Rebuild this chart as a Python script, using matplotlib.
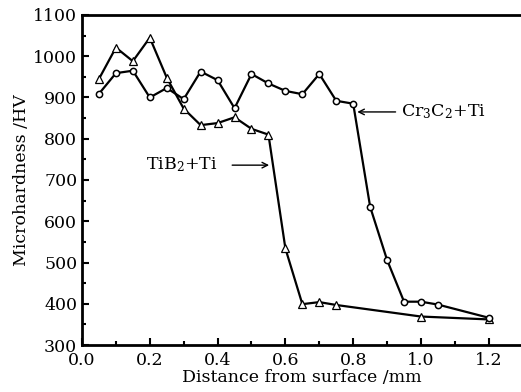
import matplotlib.pyplot as plt
from matplotlib.ticker import MultipleLocator

plt.rcParams.update({
    "font.family": "serif",
    "font.serif": ["DejaVu Serif"],
    "mathtext.fontset": "dejavuserif"})

# TiB2+Ti (triangles)
tib2_x = [0.05, 0.10, 0.15, 0.20, 0.25, 0.30, 0.35, 0.40, 0.45, 0.50, 0.55,
          0.60, 0.65, 0.70, 0.75, 1.00, 1.20]
tib2_y = [945, 1021, 988, 1045, 948, 873, 833, 838, 852, 824, 810,
          534, 399, 404, 397, 369, 362]

# Cr3C2+Ti (circles)
cr_x = [0.05, 0.10, 0.15, 0.20, 0.25, 0.30, 0.35, 0.40, 0.45, 0.50, 0.55,
        0.60, 0.65, 0.70, 0.75, 0.80, 0.85, 0.90, 0.95, 1.00, 1.05, 1.20]
cr_y = [909, 959, 965, 900, 923, 896, 963, 942, 874, 957, 934,
        916, 908, 957, 892, 885, 635, 506, 405, 405, 398, 366]

fig = plt.figure(figsize=(5.21, 3.92), dpi=100)
ax = fig.add_axes([82/521, 47/392, 439/521, 330/392])

ax.plot(tib2_x, tib2_y, color='k', lw=1.6, marker='^', ms=6,
        mfc='white', mec='k', mew=0.9)
ax.plot(cr_x, cr_y, color='k', lw=1.6, marker='o', ms=4.5,
        mfc='white', mec='k', mew=1.1)

ax.set_xlim(0, 1.295)
ax.set_ylim(300, 1100)
ax.xaxis.set_major_locator(MultipleLocator(0.2))
ax.xaxis.set_minor_locator(MultipleLocator(0.1))
ax.yaxis.set_major_locator(MultipleLocator(100))
ax.yaxis.set_minor_locator(MultipleLocator(50))
ax.xaxis.set_major_formatter('{x:.1f}')
ax.tick_params(which='both', direction='in', width=1.5, labelsize=12.5)
ax.tick_params(which='major', length=5)
ax.tick_params(which='minor', length=3)
ax.tick_params(axis='x', pad=5)
ax.spines['right'].set_visible(False)
for s in ['left', 'bottom', 'top']:
    ax.spines[s].set_linewidth(2)

ax.set_xlabel('Distance from surface /mm', fontsize=12.5, labelpad=0)
ax.set_ylabel('Microhardness /HV', fontsize=12.5, labelpad=2)

ax.text(0.295, 736, r'TiB$_2$+Ti', fontsize=12.5, va='center', ha='center')
ax.annotate('', xy=(0.552, 736), xytext=(0.443, 736),
            arrowprops=dict(arrowstyle='->', color='k', lw=1.0,
                            shrinkA=0, shrinkB=0))
ax.text(0.942, 865, r'Cr$_3$C$_2$+Ti', fontsize=12.5, va='center', ha='left')
ax.annotate('', xy=(0.812, 865), xytext=(0.925, 865),
            arrowprops=dict(arrowstyle='->', color='k', lw=1.0,
                            shrinkA=0, shrinkB=0))

fig.savefig("out.png", dpi=100)
